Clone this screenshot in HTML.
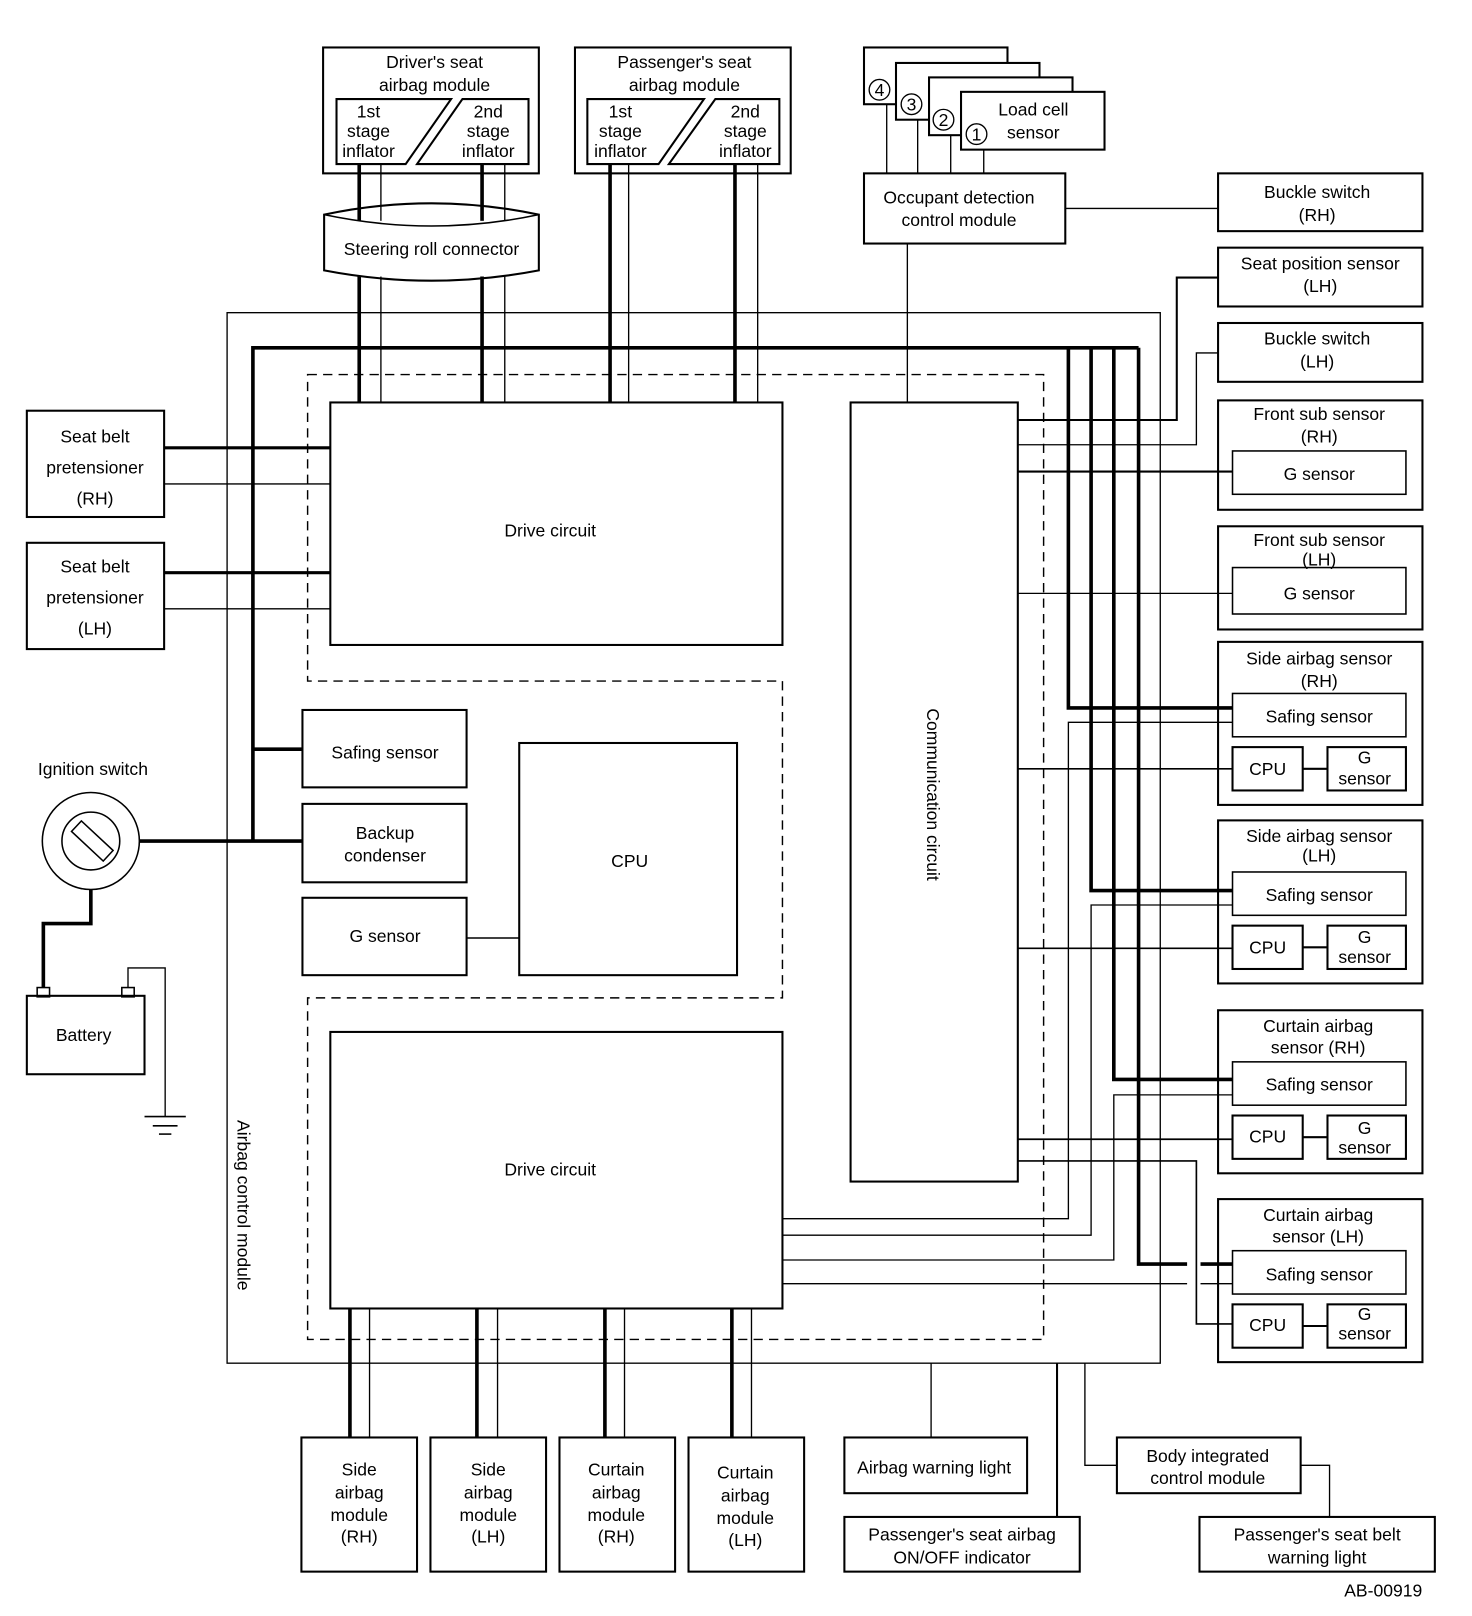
<!DOCTYPE html>
<html><head><meta charset="utf-8"><style>
html,body{margin:0;padding:0;background:#fff}
svg{display:block}
text{font-family:"Liberation Sans",sans-serif;font-size:17px;fill:#000;text-anchor:middle}
</style></head><body>
<svg width="1472" height="1616" viewBox="0 0 1426 1566" preserveAspectRatio="none" xmlns="http://www.w3.org/2000/svg">
<g fill="none" stroke="#000" stroke-width="2">
<!-- outer module -->
<rect x="220" y="303" width="904" height="1018" stroke-width="1.3"/>
<polygon points="298,363 1011,363 1011,1298 298,1298 298,967 758,967 758,660 298,660" stroke-width="1.4" stroke-dasharray="9,6"/>
<!-- circuits -->
<rect x="320" y="390" width="438" height="235"/>
<rect x="320" y="1000" width="438" height="268"/>
<rect x="824" y="390" width="162" height="755"/>
<rect x="293" y="688" width="159" height="75"/>
<rect x="293" y="779" width="159" height="76"/>
<rect x="293" y="870" width="159" height="75"/>
<rect x="503" y="720" width="211" height="225"/>
<line x1="452" y1="909" x2="503" y2="909" stroke-width="1.5"/>
<!-- left bus -->
<path d="M245 815 V337 H1103" stroke-width="3.5"/>
<line x1="245" y1="726" x2="293" y2="726" stroke-width="3.5"/>
<line x1="135" y1="815" x2="293" y2="815" stroke-width="3.5"/>
<!-- pretensioners -->
<rect x="26" y="398" width="133" height="103"/>
<rect x="26" y="526" width="133" height="103"/>
<line x1="159" y1="434" x2="320" y2="434" stroke-width="3"/>
<line x1="159" y1="469" x2="320" y2="469" stroke-width="1.3"/>
<line x1="159" y1="555" x2="320" y2="555" stroke-width="3"/>
<line x1="159" y1="590" x2="320" y2="590" stroke-width="1.3"/>
<!-- ignition / battery -->
<circle cx="88" cy="815" r="47" stroke-width="1.5"/>
<circle cx="88" cy="815" r="28" stroke-width="1.5"/>
<rect x="68" y="807" width="42" height="14" transform="rotate(43 88 815)" stroke-width="1.5"/>
<path d="M88 862 V895 H42 V957" stroke-width="3.5"/>
<rect x="26" y="965" width="114" height="76"/>
<rect x="36" y="957" width="12" height="9" stroke-width="1.5"/>
<rect x="118" y="957" width="12" height="9" stroke-width="1.5"/>
<path d="M124 957 V938 H160 V1082" stroke-width="1.3"/>
<line x1="140" y1="1082" x2="180" y2="1082" stroke-width="1.5"/>
<line x1="148" y1="1091" x2="172" y2="1091" stroke-width="1.5"/>
<line x1="154" y1="1099" x2="166" y2="1099" stroke-width="1.5"/>
<!-- top modules -->
<rect x="313" y="46" width="209" height="122"/>
<polygon points="326,96 437,96 393,159 326,159"/>
<polygon points="448,96 512,96 512,159 404,159"/>
<rect x="557" y="46" width="209" height="122"/>
<polygon points="569,96 682,96 638,159 569,159"/>
<polygon points="693,96 755,96 755,159 648,159"/>
<!-- steering roll connector -->
<path d="M314 208 Q418 186 522 208 V262 Q418 282 314 262 Z" fill="#fff"/>
<path d="M314 208 Q418 230 522 208" stroke-width="1.5"/>
<g stroke-width="3.5"><line x1="348" y1="159" x2="348" y2="214"/><line x1="467" y1="159" x2="467" y2="214"/><line x1="348" y1="268" x2="348" y2="390"/><line x1="467" y1="268" x2="467" y2="390"/>
<line x1="591" y1="159" x2="591" y2="390"/><line x1="712" y1="159" x2="712" y2="390"/></g>
<g stroke-width="1.3"><line x1="369" y1="159" x2="369" y2="214"/><line x1="489" y1="159" x2="489" y2="214"/><line x1="369" y1="268" x2="369" y2="390"/><line x1="489" y1="268" x2="489" y2="390"/>
<line x1="609" y1="159" x2="609" y2="390"/><line x1="734" y1="159" x2="734" y2="390"/></g>
<!-- load cells -->
<rect x="837" y="46" width="139" height="55" fill="#fff"/>
<rect x="868" y="61" width="139" height="55" fill="#fff"/>
<rect x="900" y="75" width="139" height="56" fill="#fff"/>
<rect x="931" y="89" width="139" height="56" fill="#fff"/>
<g stroke-width="1.3"><circle cx="852" cy="87" r="10"/><circle cx="883" cy="101" r="10"/><circle cx="914" cy="116" r="10"/><circle cx="946" cy="130" r="10"/>
<line x1="859" y1="101" x2="859" y2="168"/><line x1="889" y1="116" x2="889" y2="168"/><line x1="921" y1="131" x2="921" y2="168"/><line x1="953" y1="145" x2="953" y2="168"/>
<line x1="879" y1="236" x2="879" y2="390"/><line x1="1032" y1="202" x2="1180" y2="202"/></g>
<rect x="837" y="168" width="195" height="68"/>
<!-- right boxes -->
<rect x="1180" y="168" width="198" height="56"/>
<rect x="1180" y="240" width="198" height="57"/>
<rect x="1180" y="313" width="198" height="57"/>
<rect x="1180" y="388" width="198" height="106"/><rect x="1194" y="437" width="168" height="42" stroke-width="1.5"/>
<rect x="1180" y="510" width="198" height="100"/><rect x="1194" y="550" width="168" height="45" stroke-width="1.5"/>
<g id="s1"><rect x="1180" y="622" width="198" height="158"/><rect x="1194" y="672" width="168" height="42" stroke-width="1.5"/><rect x="1194" y="724" width="68" height="42"/><rect x="1286" y="724" width="76" height="42"/><line x1="1262" y1="745" x2="1286" y2="745"/></g>
<use href="#s1" y="173"/><use href="#s1" y="357"/><use href="#s1" y="540"/>
<!-- comm wires -->
<g stroke-width="1.3">
<path d="M986 407 H1140 V269 H1180" stroke-width="2"/>
<path d="M986 431 H1159 V342 H1180"/>
<line x1="986" y1="457" x2="1194" y2="457" stroke-width="2"/>
<line x1="986" y1="575" x2="1194" y2="575"/>
<line x1="986" y1="745" x2="1194" y2="745" stroke-width="1.6"/>
<line x1="986" y1="919" x2="1194" y2="919" stroke-width="1.6"/>
<line x1="986" y1="1104" x2="1194" y2="1104" stroke-width="1.6"/>
<path d="M986 1125 H1159 V1283 H1194" stroke-width="1.6"/>
<path d="M758 1181 H1035 V700 H1194"/>
<path d="M758 1197 H1057 V877 H1194"/>
<path d="M758 1221 H1079 V1061 H1194"/>
<path d="M758 1244 H1150 M1163 1244 H1194"/>
</g>
<g stroke-width="3.5">
<path d="M1035 337 V686 H1194"/>
<path d="M1057 337 V863 H1194"/>
<path d="M1079 337 V1046 H1194"/>
<path d="M1103 337 V1225 H1150 M1163 1225 H1194"/>
</g>
<!-- bottom -->
<g stroke-width="3.5"><line x1="339" y1="1268" x2="339" y2="1393"/><line x1="462" y1="1268" x2="462" y2="1393"/><line x1="586" y1="1268" x2="586" y2="1393"/><line x1="709" y1="1268" x2="709" y2="1393"/></g>
<g stroke-width="1.3"><line x1="358" y1="1268" x2="358" y2="1393"/><line x1="482" y1="1268" x2="482" y2="1393"/><line x1="605" y1="1268" x2="605" y2="1393"/><line x1="728" y1="1268" x2="728" y2="1393"/>
<line x1="902" y1="1321" x2="902" y2="1393"/><line x1="1024" y1="1321" x2="1024" y2="1470" stroke-width="2"/>
<path d="M1051 1321 V1420 H1082"/><path d="M1260 1420 H1288 V1470"/></g>
<rect x="292" y="1393" width="112" height="130"/><rect x="417" y="1393" width="112" height="130"/>
<rect x="542" y="1393" width="112" height="130"/><rect x="667" y="1393" width="112" height="130"/>
<rect x="818" y="1393" width="177" height="54"/><rect x="818" y="1470" width="228" height="53"/>
<rect x="1082" y="1393" width="178" height="54"/><rect x="1162" y="1470" width="228" height="53"/>
</g>
<!-- text -->
<text x="421" y="66">Driver's seat</text><text x="421" y="88">airbag module</text>
<text x="357" y="114">1st</text><text x="357" y="133">stage</text><text x="357" y="152">inflator</text>
<text x="473" y="114">2nd</text><text x="473" y="133">stage</text><text x="473" y="152">inflator</text>
<text x="663" y="66">Passenger's seat</text><text x="663" y="88">airbag module</text>
<text x="601" y="114">1st</text><text x="601" y="133">stage</text><text x="601" y="152">inflator</text>
<text x="722" y="114">2nd</text><text x="722" y="133">stage</text><text x="722" y="152">inflator</text>
<text x="418" y="247">Steering roll connector</text>
<text x="852" y="93" font-size="15">4</text><text x="883" y="107" font-size="15">3</text><text x="914" y="122" font-size="15">2</text><text x="946" y="136" font-size="15">1</text>
<text x="1001" y="112">Load cell</text><text x="1001" y="134">sensor</text>
<text x="929" y="197">Occupant detection</text><text x="929" y="219">control module</text>
<text x="1276" y="192">Buckle switch</text><text x="1276" y="214">(RH)</text>
<text x="1279" y="261">Seat position sensor</text><text x="1279" y="283">(LH)</text>
<text x="1276" y="334">Buckle switch</text><text x="1276" y="356">(LH)</text>
<text x="1278" y="407">Front sub sensor</text><text x="1278" y="429">(RH)</text><text x="1278" y="465">G sensor</text>
<text x="1278" y="529">Front sub sensor</text><text x="1278" y="548">(LH)</text><text x="1278" y="581">G sensor</text>
<text x="1278" y="644">Side airbag sensor</text><text x="1278" y="666">(RH)</text>
<text x="1278" y="816">Side airbag sensor</text><text x="1278" y="835">(LH)</text>
<text x="1277" y="1000">Curtain airbag</text><text x="1277" y="1021">sensor (RH)</text>
<text x="1277" y="1183">Curtain airbag</text><text x="1277" y="1204">sensor (LH)</text>
<text x="1278" y="700">Safing sensor</text><text x="1228" y="751">CPU</text><text x="1322" y="740">G</text><text x="1322" y="760">sensor</text>
<text x="1278" y="873">Safing sensor</text><text x="1228" y="924">CPU</text><text x="1322" y="914">G</text><text x="1322" y="933">sensor</text>
<text x="1278" y="1057">Safing sensor</text><text x="1228" y="1107">CPU</text><text x="1322" y="1099">G</text><text x="1322" y="1118">sensor</text>
<text x="1278" y="1241">Safing sensor</text><text x="1228" y="1290">CPU</text><text x="1322" y="1279">G</text><text x="1322" y="1298">sensor</text>
<text x="92" y="429">Seat belt</text><text x="92" y="459">pretensioner</text><text x="92" y="489">(RH)</text>
<text x="92" y="555">Seat belt</text><text x="92" y="585">pretensioner</text><text x="92" y="615">(LH)</text>
<text x="90" y="751">Ignition switch</text>
<text x="81" y="1009">Battery</text>
<text x="533" y="520">Drive circuit</text>
<text x="533" y="1139">Drive circuit</text>
<text x="373" y="735">Safing sensor</text>
<text x="373" y="813">Backup</text><text x="373" y="835">condenser</text>
<text x="373" y="913">G sensor</text>
<text x="610" y="840">CPU</text>
<text transform="translate(898,770) rotate(90)">Communication circuit</text>
<text transform="translate(230,1168) rotate(90)">Airbag control module</text>
<text x="348" y="1430">Side</text><text x="348" y="1452">airbag</text><text x="348" y="1474">module</text><text x="348" y="1495">(RH)</text>
<text x="473" y="1430">Side</text><text x="473" y="1452">airbag</text><text x="473" y="1474">module</text><text x="473" y="1495">(LH)</text>
<text x="597" y="1430">Curtain</text><text x="597" y="1452">airbag</text><text x="597" y="1474">module</text><text x="597" y="1495">(RH)</text>
<text x="722" y="1433">Curtain</text><text x="722" y="1455">airbag</text><text x="722" y="1477">module</text><text x="722" y="1498">(LH)</text>
<text x="905" y="1428">Airbag warning light</text>
<text x="932" y="1493">Passenger's seat airbag</text><text x="932" y="1515">ON/OFF indicator</text>
<text x="1170" y="1417">Body integrated</text><text x="1170" y="1438">control module</text>
<text x="1276" y="1493">Passenger's seat belt</text><text x="1276" y="1515">warning light</text>
<text x="1340" y="1547" font-size="19">AB-00919</text>
</svg>
</body></html>
